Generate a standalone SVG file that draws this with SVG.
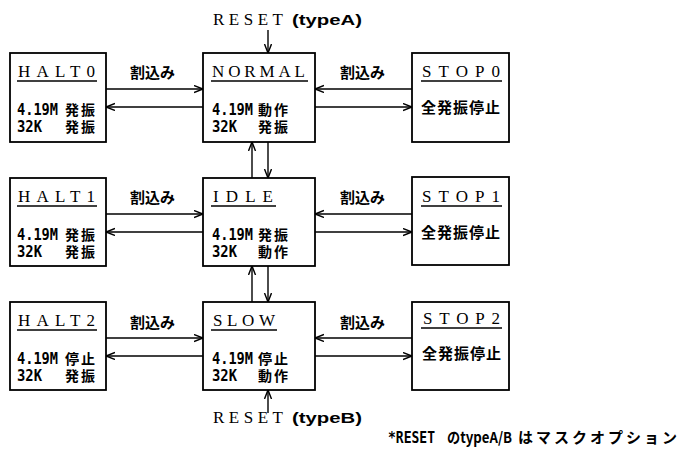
<svg xmlns="http://www.w3.org/2000/svg" width="678" height="450" viewBox="0 0 678 450">
<defs>
<marker id="ah" markerUnits="userSpaceOnUse" markerWidth="12" markerHeight="10" refX="9" refY="4" orient="auto">
<path d="M0,0.5 L9,4 L0,7.5" fill="none" stroke="#000" stroke-width="1.4"/>
</marker>
<style>
.box{fill:#fff;stroke:#000;stroke-width:1.8}
.ul{stroke:#000;stroke-width:1.6}
.t{font-family:"Liberation Serif",serif;font-size:17px;fill:#000}
.n{font-family:"DejaVu Sans Mono",monospace;font-weight:bold;font-size:15px;fill:#000}
.j{font-family:"Noto Sans CJK JP",sans-serif;font-weight:bold;font-size:15px;fill:#000}
.b{font-family:"Noto Sans CJK JP",sans-serif;font-weight:bold;font-size:14px;letter-spacing:2px;fill:#000}
.p{font-family:"Liberation Sans",sans-serif;font-weight:bold;font-size:15px;fill:#000}
.c line{stroke:#000;stroke-width:1.4;marker-end:url(#ah)}
</style>
</defs>
<rect width="678" height="450" fill="#fff"/>

<g id="connectors" class="c">
<line x1="106" y1="89" x2="203" y2="89"/>
<line x1="203" y1="107" x2="106" y2="107"/>
<line x1="412" y1="89" x2="315" y2="89"/>
<line x1="315" y1="107" x2="412" y2="107"/>
<line x1="106" y1="214" x2="203" y2="214"/>
<line x1="203" y1="232" x2="106" y2="232"/>
<line x1="412" y1="214" x2="315" y2="214"/>
<line x1="315" y1="232" x2="412" y2="232"/>
<line x1="106" y1="338" x2="203" y2="338"/>
<line x1="203" y1="356" x2="106" y2="356"/>
<line x1="412" y1="338" x2="315" y2="338"/>
<line x1="315" y1="356" x2="412" y2="356"/>
<line x1="252" y1="178" x2="252" y2="142"/>
<line x1="268" y1="142" x2="268" y2="178"/>
<line x1="252" y1="302" x2="252" y2="266"/>
<line x1="268" y1="266" x2="268" y2="302"/>
<line x1="268" y1="30" x2="268" y2="53"/>
<line x1="268" y1="413" x2="268" y2="390"/>
</g>

<g id="labels">
<text class="j" x="130" y="78">割込み</text>
<text class="j" x="340" y="78">割込み</text>
<text class="j" x="130" y="203">割込み</text>
<text class="j" x="340" y="203">割込み</text>
<text class="j" x="130" y="328">割込み</text>
<text class="j" x="340" y="328">割込み</text>
</g>

<g id="resetA">
<text class="t" x="213" y="25" font-size="18" textLength="70" lengthAdjust="spacing">RESET</text>
<text class="p" x="292" y="25" textLength="70" lengthAdjust="spacingAndGlyphs">(typeA)</text>
</g>
<g id="resetB">
<text class="t" x="213" y="423" font-size="18" textLength="70" lengthAdjust="spacing">RESET</text>
<text class="p" x="292" y="423" textLength="70" lengthAdjust="spacingAndGlyphs">(typeB)</text>
</g>

<g id="HALT0">
<rect class="box" x="10" y="53" width="96" height="89"/>
<text class="t" x="18" y="77" textLength="77" lengthAdjust="spacing">HALT0</text>
<line class="ul" x1="17" y1="81" x2="97" y2="81"/>
<text class="n" x="17" y="115" textLength="41" lengthAdjust="spacingAndGlyphs">4.19M</text>
<text class="b" x="65" y="115">発振</text>
<text class="n" x="17" y="132" textLength="25" lengthAdjust="spacingAndGlyphs">32K</text>
<text class="b" x="65" y="132">発振</text>
</g>

<g id="NORMAL">
<rect class="box" x="203" y="53" width="112" height="89"/>
<text class="t" x="212" y="77" textLength="93" lengthAdjust="spacing">NORMAL</text>
<line class="ul" x1="211" y1="81" x2="308" y2="81"/>
<text class="n" x="212" y="115" textLength="41" lengthAdjust="spacingAndGlyphs">4.19M</text>
<text class="b" x="258" y="115">動作</text>
<text class="n" x="212" y="132" textLength="25" lengthAdjust="spacingAndGlyphs">32K</text>
<text class="b" x="258" y="132">発振</text>
</g>

<g id="STOP0">
<rect class="box" x="412" y="53" width="97" height="89"/>
<text class="t" x="422" y="77" textLength="78" lengthAdjust="spacing">STOP0</text>
<line class="ul" x1="421" y1="81" x2="502" y2="81"/>
<text class="j" x="421" y="113" textLength="79">全発振停止</text>
</g>

<g id="HALT1">
<rect class="box" x="10" y="178" width="96" height="88"/>
<text class="t" x="18" y="202" textLength="77" lengthAdjust="spacing">HALT1</text>
<line class="ul" x1="17" y1="206" x2="97" y2="206"/>
<text class="n" x="17" y="240" textLength="41" lengthAdjust="spacingAndGlyphs">4.19M</text>
<text class="b" x="65" y="240">発振</text>
<text class="n" x="17" y="257" textLength="25" lengthAdjust="spacingAndGlyphs">32K</text>
<text class="b" x="65" y="257">発振</text>
</g>

<g id="IDLE">
<rect class="box" x="203" y="178" width="112" height="88"/>
<text class="t" x="213" y="202" textLength="60" lengthAdjust="spacing">IDLE</text>
<line class="ul" x1="211" y1="206" x2="276" y2="206"/>
<text class="n" x="212" y="240" textLength="41" lengthAdjust="spacingAndGlyphs">4.19M</text>
<text class="b" x="258" y="240">発振</text>
<text class="n" x="212" y="257" textLength="25" lengthAdjust="spacingAndGlyphs">32K</text>
<text class="b" x="258" y="257">動作</text>
</g>

<g id="STOP1">
<rect class="box" x="412" y="177" width="97" height="88"/>
<text class="t" x="422" y="202" textLength="78" lengthAdjust="spacing">STOP1</text>
<line class="ul" x1="421" y1="206" x2="502" y2="206"/>
<text class="j" x="421" y="238" textLength="79">全発振停止</text>
</g>

<g id="HALT2">
<rect class="box" x="10" y="302" width="96" height="88"/>
<text class="t" x="18" y="326" textLength="77" lengthAdjust="spacing">HALT2</text>
<line class="ul" x1="17" y1="330" x2="97" y2="330"/>
<text class="n" x="17" y="364" textLength="41" lengthAdjust="spacingAndGlyphs">4.19M</text>
<text class="b" x="65" y="364">停止</text>
<text class="n" x="17" y="381" textLength="25" lengthAdjust="spacingAndGlyphs">32K</text>
<text class="b" x="65" y="381">発振</text>
</g>

<g id="SLOW">
<rect class="box" x="203" y="302" width="112" height="88"/>
<text class="t" x="213" y="326" textLength="62" lengthAdjust="spacing">SLOW</text>
<line class="ul" x1="211" y1="330" x2="277" y2="330"/>
<text class="n" x="212" y="364" textLength="41" lengthAdjust="spacingAndGlyphs">4.19M</text>
<text class="b" x="258" y="364">停止</text>
<text class="n" x="212" y="381" textLength="25" lengthAdjust="spacingAndGlyphs">32K</text>
<text class="b" x="258" y="381">動作</text>
</g>

<g id="STOP2">
<rect class="box" x="412" y="302" width="97" height="88"/>
<text class="t" x="423" y="324" textLength="77" lengthAdjust="spacing">STOP2</text>
<line class="ul" x1="421" y1="328" x2="502" y2="328"/>
<text class="j" x="422" y="359" textLength="79">全発振停止</text>
</g>

<g id="footnote">
<text class="n" x="388" y="443" font-size="13" textLength="47" lengthAdjust="spacingAndGlyphs">*RESET</text>
<text class="j" x="447" y="443" font-size="13" textLength="65" lengthAdjust="spacingAndGlyphs">のtypeA/B</text>
<text class="j" x="518" y="443" font-size="13" textLength="159" lengthAdjust="spacing">はマスクオプション</text>
</g>
</svg>
